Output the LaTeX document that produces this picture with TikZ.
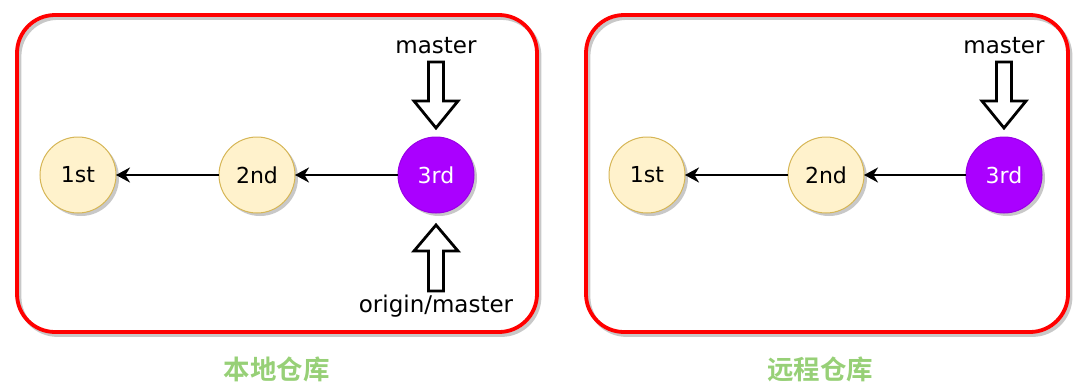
\documentclass[tikz,border=0pt]{standalone}
\usepackage{fontspec}
\setmainfont{DejaVu Sans}
\newfontfamily\cjkfont{Noto Sans CJK SC}[BoldFont={* Bold}]
\usetikzlibrary{arrows.meta,calc}
\definecolor{commitfill}{HTML}{FFF2CC}
\definecolor{commitline}{HTML}{D6B656}
\definecolor{headfill}{HTML}{AA00FF}
\definecolor{headline}{HTML}{9900E6}
\definecolor{repored}{HTML}{FF0000}
\definecolor{labelgreen}{HTML}{97D077}
\definecolor{shadowgray}{HTML}{C8C8C8}
\tikzset{
  repobox/.style={draw=repored, line width=3.8pt, rounded corners=38pt},
  reposhadow/.style={draw=shadowgray, line width=3.8pt, rounded corners=38pt},
  commit/.style={circle, minimum size=76pt, inner sep=0pt, outer sep=0pt,
    fill=commitfill, draw=commitline, line width=1pt,
    font=\fontsize{22}{26}\selectfont},
  headcommit/.style={commit, fill=headfill, draw=headline, text=white},
  edge/.style={line width=2.8pt, -{Stealth[length=14pt,width=15pt,inset=4.5pt]}},
  reflabel/.style={inner sep=0pt, font=\fontsize{23}{27}\selectfont},
  blockarrow/.style={draw=black, fill=white, line width=2.8pt, line join=miter},
  repolabel/.style={inner sep=0pt, text=labelgreen, font=\cjkfont\bfseries\fontsize{26.5}{30}\selectfont},
  pics/blockdown/.style={code={
    \draw[blockarrow] (-7.5,-66) -- (7.5,-66) -- (7.5,-27) -- (22,-27) -- (0,0)
      -- (-22,-27) -- (-7.5,-27) -- cycle;}},
  pics/blockup/.style={code={
    \draw[blockarrow] (-7.5,66) -- (7.5,66) -- (7.5,26) -- (22,26) -- (0,0)
      -- (-22,26) -- (-7.5,26) -- cycle;}},
}
\begin{document}
\begin{tikzpicture}[x=1pt,y=-1pt]
\useasboundingbox (0,0) rectangle (1087,391);
% repository frames
\draw[reposhadow] (19.5,18) rectangle (539.5,335);
\draw[repobox] (17,15) rectangle (537,332);
\draw[reposhadow] (588.5,18) rectangle (1070.5,335);
\draw[repobox] (586,15) rectangle (1068,332);
% shadows of commits
\foreach \x in {78,257,436,647,826,1004}
  \fill[shadowgray] (\x+3,178) circle (38pt);
% local commits
\node[commit] (l1) at (78,175) {1st};
\node[commit] (l2) at (257,175) {2nd};
\node[headcommit] (l3) at (436,175) {3rd};
% remote commits
\node[commit] (r1) at (647,175) {1st};
\node[commit] (r2) at (826,175) {2nd};
\node[headcommit] (r3) at (1004,175) {3rd};
% parent links
\draw[edge] (l3) -- (l2);
\draw[edge] (l2) -- (l1);
\draw[edge] (r3) -- (r2);
\draw[edge] (r2) -- (r1);
% references
\node[reflabel] (lmaster) at (436,46) {master};
\node[reflabel] (lorigin) at (436,306) {origin/master};
\node[reflabel] (rmaster) at (1004,46) {master};
\coordinate (ltip) at ($(l3.north)+(0,-9)$);
\coordinate (lbot) at ($(l3.south)+(0,12)$);
\coordinate (rtip) at ($(r3.north)+(0,-9)$);
\pic at (ltip) {blockdown};
\pic at (lbot) {blockup};
\pic at (rtip) {blockdown};
% repository labels
\node[repolabel] (llab) at (276.5,369) {本地仓库};
\node[repolabel] (rlab) at (820,369) {远程仓库};
\end{tikzpicture}
\end{document}
